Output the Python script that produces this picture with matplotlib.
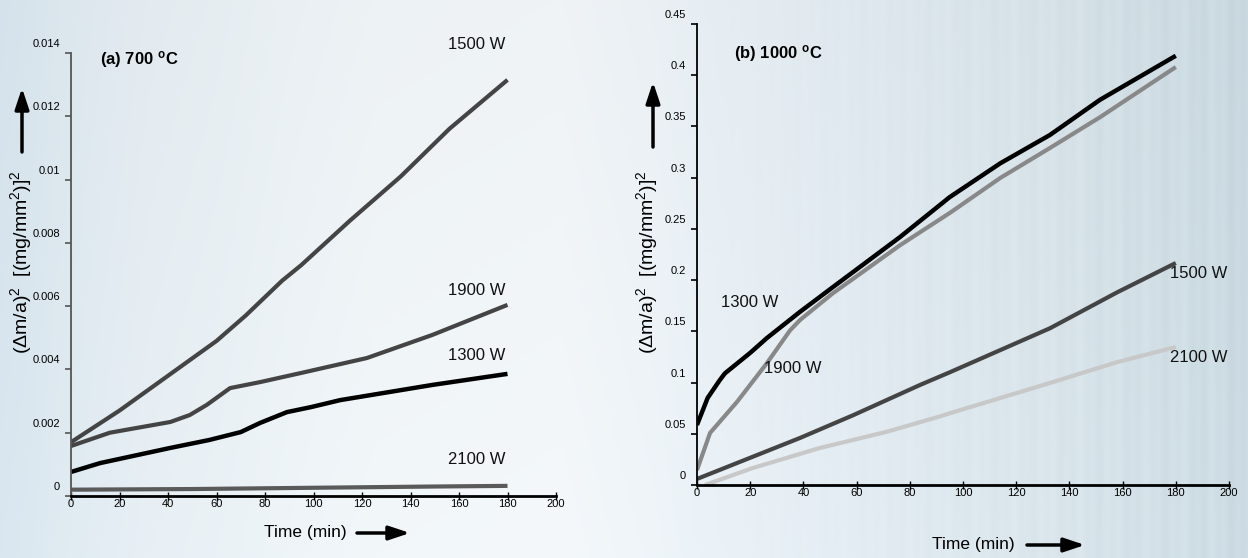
import numpy as np
import matplotlib
matplotlib.use("Agg")
import matplotlib.pyplot as plt
from matplotlib import font_manager
from matplotlib.transforms import ScaledTranslation

# ---------------- data ----------------
# Panel (a) 700 °C
a_1500_t = [0, 20, 40, 60, 72, 87, 95, 115, 136, 156, 180]
a_1500_v = [0.0017, 0.0027, 0.0038, 0.0049, 0.0057, 0.0068, 0.0073, 0.0087, 0.0101, 0.0116, 0.01315]
a_1900_t = [0, 16, 41, 49, 56, 65.6, 78, 95, 122, 149, 180]
a_1900_v = [0.00158, 0.0020, 0.00234, 0.00256, 0.00288, 0.00341, 0.0036, 0.00389, 0.00436, 0.00509, 0.00604]
a_1300_t = [0, 12, 41, 57, 70, 78, 89, 99, 111, 149, 180]
a_1300_v = [0.00076, 0.00104, 0.00152, 0.00177, 0.00202, 0.00231, 0.00265, 0.00281, 0.00303, 0.00351, 0.00386]
a_2100_t = [0, 50, 100, 150, 180]
a_2100_v = [0.0002, 0.00022, 0.00026, 0.0003, 0.00032]

# Panel (b) 1000 °C
b_1300_t = [0, 4, 8.6, 10.5, 20, 26.3, 38.7, 51, 76.3, 95, 114, 132.7, 151.5, 180]
b_1300_v = [0.0586, 0.085, 0.1025, 0.109, 0.129, 0.1435, 0.169, 0.193, 0.242, 0.281, 0.314, 0.3417, 0.376, 0.419]
b_1900_t = [0, 4.9, 15, 26.3, 35, 38.7, 51, 76.3, 95, 114, 132.7, 151.5, 180]
b_1900_v = [0.0146, 0.0508, 0.081, 0.119, 0.151, 0.161, 0.187, 0.234, 0.2655, 0.2997, 0.329, 0.359, 0.408]
b_1500_t = [0, 38.7, 58.6, 83.8, 95, 132.7, 157.9, 180]
b_1500_v = [0.0059, 0.0459, 0.068, 0.0976, 0.110, 0.153, 0.188, 0.2167]
b_2100_t = [3, 21, 46, 71.4, 91.4, 95, 132.7, 158, 180]
b_2100_v = [0.0, 0.0166, 0.036, 0.052, 0.067, 0.070, 0.0996, 0.120, 0.1347]

x_ticks = [0, 20, 40, 60, 80, 100, 120, 140, 160, 180, 200]
a_yticks = [0, 0.002, 0.004, 0.006, 0.008, 0.01, 0.012, 0.014]
a_ylabels = ["0", "0.002", "0.004", "0.006", "0.008", "0.01", "0.012", "0.014"]
b_yticks = [0, 0.05, 0.1, 0.15, 0.2, 0.25, 0.3, 0.35, 0.4, 0.45]
b_ylabels = ["0", "0.05", "0.1", "0.15", "0.2", "0.25", "0.3", "0.35", "0.4", "0.45"]

# ---------------- fonts ----------------
names = {f.name for f in font_manager.fontManager.ttflist}
NARROW = "Liberation Sans Narrow" in names
BASE = "Liberation Sans"
TXT = "Liberation Sans Narrow" if NARROW else BASE
plt.rcParams["font.family"] = [BASE, "DejaVu Sans"]
plt.rcParams["mathtext.fontset"] = "custom"
plt.rcParams["mathtext.rm"] = BASE
plt.rcParams["mathtext.it"] = BASE + ":italic"
plt.rcParams["mathtext.bf"] = BASE + ":bold"

W, H = 1248, 558
fig = plt.figure(figsize=(W / 100, H / 100), dpi=100)

# ---------------- background ----------------
bg = fig.add_axes([0, 0, 1, 1], zorder=-10)
xs = np.linspace(0, 1, W)
ys = np.linspace(0, 1, H)
kx = np.array([0.0, 0.12, 0.3, 0.45, 0.56, 0.7, 0.85, 1.0])
cr = np.array([218, 232, 242, 244, 236, 226, 218, 205])
cg = np.array([231, 240, 247, 248, 243, 236, 230, 220])
cb = np.array([240, 245, 250, 251, 248, 242, 236, 228])
R = np.interp(xs, kx, cr)
G = np.interp(xs, kx, cg)
B = np.interp(xs, kx, cb)
stripe = (np.sin(xs * 2 * np.pi * 95) * 0.5 + np.sin(xs * 2 * np.pi * 37 + 1.3) * 0.5)
stripe_amp = np.clip((xs - 0.55) / 0.45, 0, 1) * 4.0
vert = 1.0 - 0.02 * (1 - ys)[:, None]
img = np.zeros((H, W, 3))
img[..., 0] = (R + stripe * stripe_amp)[None, :] * vert
img[..., 1] = (G + stripe * stripe_amp)[None, :] * vert
img[..., 2] = (B + stripe * stripe_amp * 0.8)[None, :] * vert
bg.imshow(np.clip(img / 255.0, 0, 1), aspect="auto", extent=[0, 1, 0, 1], origin="upper")
bg.set_axis_off()


def style_axes(ax, ymax, yticks, ylabels, left_color):
    ax.set_xlim(0, 200)
    ax.set_ylim(0, ymax)
    ax.patch.set_alpha(0)
    for s in ["top", "right"]:
        ax.spines[s].set_visible(False)
    ax.spines["left"].set_color(left_color)
    ax.spines["left"].set_linewidth(1.3)
    ax.spines["bottom"].set_color("black")
    ax.spines["bottom"].set_linewidth(2.0)
    ax.set_xticks(x_ticks)
    ax.set_xticklabels([str(v) for v in x_ticks], fontsize=8, family=BASE)
    ax.set_yticks(yticks)
    ax.set_yticklabels(ylabels, fontsize=8, family=BASE)
    ax.tick_params(axis="x", direction="inout", length=6, width=1.0, pad=-1, colors="black")
    ax.tick_params(axis="y", direction="out", length=4, width=1.2, pad=4, color=left_color,
                   labelcolor="black")
    off = ScaledTranslation(0, 10 / 100, fig.dpi_scale_trans)
    for lab in ax.get_yticklabels():
        lab.set_transform(lab.get_transform() + off)


line_kw = dict(solid_capstyle="butt", solid_joinstyle="round")

# ---------------- panel (a) ----------------
ax1 = fig.add_axes([71 / W, 1 - 496 / H, 485 / W, 443 / H])
style_axes(ax1, 0.014, a_yticks, a_ylabels, "#555555")
ax1.plot(a_2100_t, a_2100_v, color="#5a5a5a", lw=3.0, **line_kw)
ax1.plot(a_1300_t, a_1300_v, color="#000000", lw=3.2, **line_kw)
ax1.plot(a_1900_t, a_1900_v, color="#444444", lw=3.0, **line_kw)
ax1.plot(a_1500_t, a_1500_v, color="#444444", lw=3.0, **line_kw)

lab_kw = dict(fontsize=14 if NARROW else 12, family=TXT, color="#111111", ha="left", va="center")
ax1.text(155.5, 0.01428, "1500 W", **lab_kw)
ax1.text(155.5, 0.00650, "1900 W", **lab_kw)
ax1.text(155.5, 0.00445, "1300 W", **lab_kw)
ax1.text(155.5, 0.00116, "2100 W", **lab_kw)
ax1.text(12, 0.0138, r"(a) 700 $^{\mathbf{o}}$C", fontsize=14 if NARROW else 12, family=TXT,
         weight="bold", ha="left", va="center")

# ---------------- panel (b) ----------------
ax2 = fig.add_axes([697 / W, 1 - 485 / H, 532 / W, 461 / H])
style_axes(ax2, 0.45, b_yticks, b_ylabels, "black")
ax2.plot(b_2100_t, b_2100_v, color="#c8c8c8", lw=3.0, **line_kw)
ax2.plot(b_1500_t, b_1500_v, color="#444444", lw=3.0, **line_kw)
ax2.plot(b_1900_t, b_1900_v, color="#888888", lw=3.0, **line_kw)
ax2.plot(b_1300_t, b_1300_v, color="#000000", lw=3.2, **line_kw)

ax2.text(9, 0.178, "1300 W", **lab_kw)
ax2.text(25, 0.114, "1900 W", **lab_kw)
ax2.text(178, 0.206, "1500 W", **lab_kw)
ax2.text(178, 0.124, "2100 W", **lab_kw)
ax2.text(14, 0.421, r"(b) 1000 $^{\mathbf{o}}$C", fontsize=14 if NARROW else 12, family=TXT,
         weight="bold", ha="left", va="center")

# ---------------- axis labels with arrows ----------------
ylab = r"(Δm/a)$^2$  [(mg/mm$^2$)]$^2$"
yl_size = 15.5 if NARROW else 14
fig.text(21 / W, 1 - 262 / H, ylab, rotation=90, ha="center", va="center",
         fontsize=yl_size, family=TXT)
fig.text(647 / W, 1 - 262 / H, ylab, rotation=90, ha="center", va="center",
         fontsize=yl_size, family=TXT)

xl_size = 15 if NARROW else 12.5
fig.text(347 / W, 1 - 533 / H, "Time (min)", ha="right", va="center", fontsize=xl_size, family=TXT)
fig.text(1015 / W, 1 - 545 / H, "Time (min)", ha="right", va="center", fontsize=xl_size, family=TXT)

arrow_kw = dict(arrowstyle="-|>,head_length=0.9,head_width=0.3", color="black", lw=2.5,
                shrinkA=0, shrinkB=0)
fig.add_artist(matplotlib.patches.FancyArrowPatch((22 / W, 1 - 152 / H), (22 / W, 1 - 88 / H),
                                                  transform=fig.transFigure, mutation_scale=14,
                                                  **arrow_kw))
fig.add_artist(matplotlib.patches.FancyArrowPatch((653 / W, 1 - 147 / H), (653 / W, 1 - 82 / H),
                                                  transform=fig.transFigure, mutation_scale=14,
                                                  **arrow_kw))
fig.add_artist(matplotlib.patches.FancyArrowPatch((357 / W, 1 - 533 / H), (410 / W, 1 - 533 / H),
                                                  transform=fig.transFigure, mutation_scale=14,
                                                  **arrow_kw))
fig.add_artist(matplotlib.patches.FancyArrowPatch((1027 / W, 1 - 545 / H), (1085 / W, 1 - 545 / H),
                                                  transform=fig.transFigure, mutation_scale=14,
                                                  **arrow_kw))

fig.savefig("out.png", dpi=100)
